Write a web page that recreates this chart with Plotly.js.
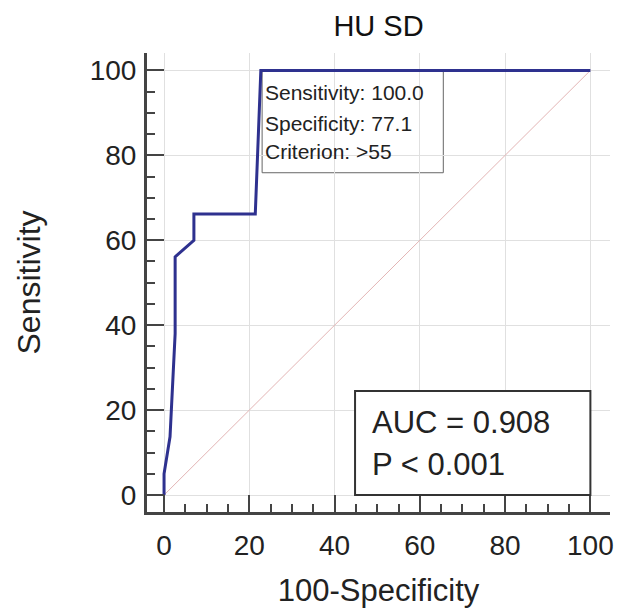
<!DOCTYPE html>
<html>
<head>
<meta charset="utf-8">
<script src="https://cdn.plot.ly/plotly-3.0.1.min.js"></script>
<style>html,body{margin:0;padding:0;background:#fff;}#chart{width:620px;height:612px;}</style>
</head>
<body>
<div id="chart"></div>
<script>
// ROC curve (100-Specificity, Sensitivity)
const rocX = [0, 0, 1.4, 2.6, 2.6, 7.0, 7.0, 21.4, 22.7, 100];
const rocY = [0, 5, 13.7, 38, 56.1, 60, 66.2, 66.2, 100, 100];
// Reference diagonal
const diagX = [0, 100];
const diagY = [0, 100];
const tickVals = [0, 20, 40, 60, 80, 100];
const tickText = ['0', '20', '40', '60', '80', '100'];
const criterionLines = ['Sensitivity: 100.0', 'Specificity: 77.1', 'Criterion: >55'];
const statLines = ['AUC = 0.908', 'P < 0.001'];

const FONT = 'Liberation Sans, Arial, sans-serif';
const axisCommon = {
  showline: true, linecolor: '#444', linewidth: 3,
  ticks: 'inside', ticklen: 17, tickwidth: 2, tickcolor: '#444',
  tickvals: tickVals, ticktext: tickText,
  tickfont: {family: FONT, size: 28, color: '#222'},
  showgrid: true, gridcolor: '#e0e0e0', gridwidth: 1,
  zeroline: false,
  minor: {dtick: 5, ticks: 'inside', ticklen: 8, tickwidth: 2, tickcolor: '#444', showgrid: false},
  automargin: false
};

const traces = [
  {x: diagX, y: diagY, type: 'scatter', mode: 'lines',
   line: {color: '#e3b5b5', width: 1}, hoverinfo: 'skip'},
  {x: rocX, y: rocY, type: 'scatter', mode: 'lines',
   line: {color: '#2e318f', width: 3}, hoverinfo: 'skip'}
];

const annotations = [];
const box1Y = [94.7, 87.6, 80.8];
criterionLines.forEach((t, i) => annotations.push({
  x: 23.1, y: box1Y[i], xref: 'x', yref: 'y', text: t, showarrow: false,
  xanchor: 'left', yanchor: 'middle', font: {family: FONT, size: 21, color: '#222'}
}));
const box2Y = [17.0, 7.1];
statLines.forEach((t, i) => annotations.push({
  x: 48.4, y: box2Y[i], xref: 'x', yref: 'y', text: t, showarrow: false,
  xanchor: 'left', yanchor: 'middle', font: {family: FONT, size: 31, color: '#222'}
}));

const layout = {
  width: 620, height: 612,
  margin: {l: 147, r: 10, t: 53, b: 100},
  paper_bgcolor: '#fff', plot_bgcolor: '#fff',
  showlegend: false,
  title: {text: 'HU SD', x: 0.5, xref: 'paper', y: 0.958, yref: 'container', yanchor: 'middle',
          font: {family: FONT, size: 29, color: '#111'}},
  xaxis: Object.assign({}, axisCommon, {range: [-4, 104.6],
    ticklabelstandoff: 6,
    title: {text: '100-Specificity', standoff: 20, font: {family: FONT, size: 31, color: '#222'}}}),
  yaxis: Object.assign({}, axisCommon, {range: [-4, 104.1],
    ticklabelstandoff: 2,
    title: {text: 'Sensitivity', standoff: 40, font: {family: FONT, size: 32, color: '#222'}}}),
  shapes: [
    {type: 'rect', xref: 'x', yref: 'y', x0: 23.0, x1: 65.5, y0: 75.9, y1: 100,
     line: {color: '#666', width: 1}, fillcolor: 'rgba(0,0,0,0)', layer: 'below'},
    {type: 'rect', xref: 'x', yref: 'y', x0: 44.8, x1: 100, y0: 0, y1: 24.5,
     line: {color: '#333', width: 2}, fillcolor: '#fff', layer: 'above'}
  ],
  annotations: annotations
};

Plotly.newPlot('chart', traces, layout, {staticPlot: true, displayModeBar: false});
</script>
</body>
</html>
